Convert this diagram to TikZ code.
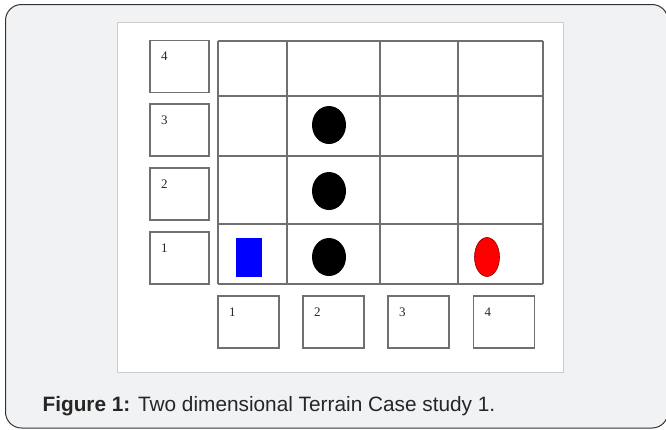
\documentclass[tikz,border=0pt]{standalone}
\usepackage{fontspec}
\setmainfont{Liberation Serif}
\newfontfamily\capfont{Liberation Sans}
\usetikzlibrary{positioning}

\definecolor{pagegrey}{HTML}{F1F2F4}
\definecolor{gridgrey}{HTML}{707070}
\definecolor{panelline}{HTML}{CCCCCC}

\begin{document}
\begin{tikzpicture}[x=1pt, y=-1pt, line width=1.1pt,
	labbox/.style={draw=gridgrey, fill=white, minimum width=59pt, minimum height=52pt, inner sep=0pt},
	numtxt/.style={font=\fontsize{13}{15}\selectfont, text=black!85, inner sep=0pt}]
	\useasboundingbox (0,0) rectangle (666,429);
	\clip (0,0) rectangle (666,429);
	\draw[rounded corners=16pt, fill=pagegrey, draw=black!80, line width=1pt] (5.5,4.5) rectangle (668,428);
	\draw[fill=white, draw=panelline, line width=0.8pt] (117,22) rectangle (563,372);
	% terrain grid
	\foreach \x in {218,287,380,458,543} {\draw[gridgrey] (\x,41) -- (\x,284);}
	\foreach \y in {41,96,156,224,284} {\draw[gridgrey] (218,\y) -- (543,\y);}
	% row and column numbers
	\foreach \r/\y in {4/66.5,3/130,2/194,1/258} {
		\node[labbox] (rowbox\r) at (179.5,\y) {};
		\node[numtxt] (rownum\r) at ([shift={(15,16.5)}]rowbox\r.north west) {\r};
	}
	\foreach \c/\x in {1/248.5,2/333.5,3/418.5,4/504} {
		\node[labbox, minimum width=61pt] (colbox\c) at (\x,322) {};
		\node[numtxt] (colnum\c) at ([shift={(15,17)}]colbox\c.north west) {\c};
	}
	% obstacles, start and goal
	\foreach \y in {125,191,257} {\fill[black] (329,\y) ellipse [x radius=17pt, y radius=19pt];}
	\draw[fill=red, draw=red!55!black, line width=0.6pt] (487,257) ellipse [x radius=12.5pt, y radius=19.5pt];
	\fill[blue] (236,238) rectangle (262,277);
	\node[anchor=base west, inner sep=0pt, text=black!85, font=\capfont\fontsize{20.8}{24}\selectfont] (caption) at (42,411) {\textbf{Figure 1:} Two dimensional Terrain Case study 1.};
\end{tikzpicture}
\end{document}
